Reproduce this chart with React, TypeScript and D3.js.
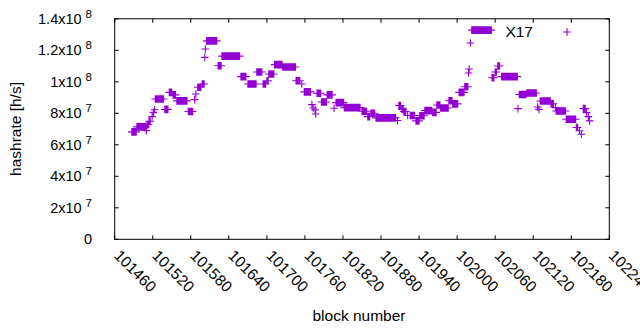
import React from 'react';
import * as d3 from 'd3';

// Runs of blocks sharing one hashrate estimate (value in units of 1e7 h/s)
const runStart = [
  101487, 101495, 101510, 101511, 101514, 101519, 101521, 101523, 101524, 101539,
  101546, 101552, 101558, 101576, 101586, 101588, 101591, 101598, 101602, 101603,
  101605, 101623, 101629, 101659, 101670, 101684, 101694, 101700, 101703, 101712,
  101725, 101746, 101755, 101759, 101771, 101773, 101776, 101777, 101779, 101786,
  101795, 101806, 101809, 101822, 101850, 101859, 101864, 101872, 101906, 101908,
  101913, 101916, 101922, 101926, 101935, 101941, 101949, 101961, 101968, 101974,
  101987, 101993, 102003, 102012, 102018, 102019, 102021, 102023, 102055, 102060,
  102064, 102070, 102096, 102098, 102110, 102127, 102129, 102131, 102148, 102155,
  102156, 102172, 102188, 102193, 102196, 102199, 102204, 102207, 102209,
];
const runEnd = [
  101494, 101509, 101510, 101513, 101516, 101519, 101521, 101523, 101537, 101544,
  101550, 101556, 101574, 101583, 101586, 101588, 101596, 101601, 101602, 101603,
  101621, 101628, 101657, 101667, 101683, 101692, 101698, 101702, 101711, 101724,
  101745, 101752, 101755, 101769, 101771, 101773, 101776, 101777, 101785, 101794,
  101803, 101806, 101821, 101847, 101857, 101862, 101870, 101903, 101906, 101911,
  101915, 101919, 101922, 101933, 101940, 101948, 101960, 101967, 101973, 101986,
  101992, 102001, 102011, 102017, 102018, 102019, 102021, 102054, 102058, 102062,
  102067, 102095, 102096, 102109, 102125, 102127, 102129, 102147, 102152, 102155,
  102171, 102187, 102190, 102193, 102196, 102202, 102204, 102207, 102209,
];
const runValue = [
  6.82, 7.14, 6.9, 7.27, 7.5, 7.79, 8.06, 8.23, 8.91, 8.25,
  9.33, 9.17, 8.79, 8.11, 8.87, 9.23, 9.65, 9.86, 11.55, 12.08,
  12.6, 11.02, 11.63, 10.33, 9.86, 10.62, 9.86, 10.07, 10.5, 11.09,
  10.94, 10.07, 9.86, 9.36, 8.55, 8.34, 8.22, 7.96, 9.27, 8.72,
  9.17, 8.32, 8.68, 8.36, 8.13, 7.79, 8.0, 7.71, 7.54, 8.5,
  8.25, 8.11, 7.86, 7.86, 7.52, 7.84, 8.17, 8.06, 8.53, 8.34,
  8.8, 8.6, 9.33, 9.69, 10.56, 10.81, 12.46, 13.28, 10.26, 10.62,
  11.0, 10.33, 8.3, 9.19, 9.29, 8.4, 8.25, 8.78, 8.61, 8.36,
  8.15, 7.62, 7.1, 6.89, 6.67, 8.3, 8.04, 7.79, 7.52,
];

const xTicks = [101460, 101520, 101580, 101640, 101700, 101760, 101820, 101880, 101940, 102000, 102060, 102120, 102180, 102240];
const yTicks = [0, 2e7, 4e7, 6e7, 8e7, 1e8, 1.2e8, 1.4e8];
const seriesName = 'X17';
const xLabel = 'block number';
const yLabel = 'hashrate [h/s]';

const COLOR = '#9400D3';
const FONT = '"Liberation Sans", Arial, sans-serif';

function sciParts(v: number): [string, string | null] {
  if (v === 0) return ['0', null];
  const e = Math.floor(Math.log10(v) + 1e-9);
  const mant = +(v / Math.pow(10, e)).toFixed(2);
  return [`${mant}x10`, String(e)];
}

export default function App() {
  const W = 640;
  const H = 330;
  const left = 114.7, right = 609.3, top = 18.8, bottom = 239.3;
  const x = d3.scaleLinear().domain([101460, 102240]).range([left, right]);
  const y = d3.scaleLinear().domain([0, 1.4e8]).range([bottom, top]);

  const pts: [number, number][] = [];
  runStart.forEach((s, i) => {
    for (let b = s; b <= runEnd[i]; b++) pts.push([b, runValue[i] * 1e7]);
  });
  const a = 3.8;
  const plus = (px: number, py: number) => `M${px - a},${py}h${2 * a}M${px},${py - a}v${2 * a}`;
  const dataPath = pts.map(([b, v]) => plus(x(b), y(v))).join('');

  const tickLen = 4;

  return (
    <svg width={W} height={H} style={{ position: 'absolute', left: 0, top: 0, background: '#fff' }} fontFamily={FONT}>
      <rect x={0} y={0} width={W} height={H} fill="#fff" />
      {/* ticks */}
      <g stroke="#000" strokeWidth={1}>
        {xTicks.map((t) => (
          <g key={'xt' + t}>
            <line x1={x(t)} x2={x(t)} y1={bottom} y2={bottom - tickLen} />
            <line x1={x(t)} x2={x(t)} y1={top} y2={top + tickLen} />
          </g>
        ))}
        {yTicks.map((t) => (
          <g key={'yt' + t}>
            <line x1={left} x2={left + tickLen} y1={y(t)} y2={y(t)} />
            <line x1={right} x2={right - tickLen} y1={y(t)} y2={y(t)} />
          </g>
        ))}
      </g>
      {/* data */}
      <path d={dataPath} stroke={COLOR} strokeWidth={1.1} fill="none" />
      {/* frame */}
      <rect x={left} y={top} width={right - left} height={bottom - top} fill="none" stroke="#000" strokeWidth={1} />
      {/* y tick labels */}
      {yTicks.map((t) => {
        const [m, e] = sciParts(t);
        return (
          <text key={'yl' + t} x={92} y={y(t) + 5} textAnchor="end" fontSize={14.5} fill="#000">
            {m}
            {e !== null && (
              <tspan dx={4} dy={-6} fontSize={11.5}>{e}</tspan>
            )}
          </text>
        );
      })}
      {/* x tick labels */}
      {xTicks.map((t) => (
        <text key={'xl' + t} transform={`translate(${x(t) - 1.5},${256.5}) rotate(45)`} fontSize={15.5} fill="#000">
          {t}
        </text>
      ))}
      {/* axis labels */}
      <text x={359} y={321} textAnchor="middle" fontSize={15.5} fill="#000">{xLabel}</text>
      <text transform={`translate(21,129) rotate(-90)`} textAnchor="middle" fontSize={15.5} fill="#000">{yLabel}</text>
      {/* legend */}
      <text x={533} y={37} textAnchor="end" fontSize={15.5} fill="#000">{seriesName}</text>
      <path d={plus(567, 32)} stroke={COLOR} strokeWidth={1.1} fill="none" />
    </svg>
  );
}
